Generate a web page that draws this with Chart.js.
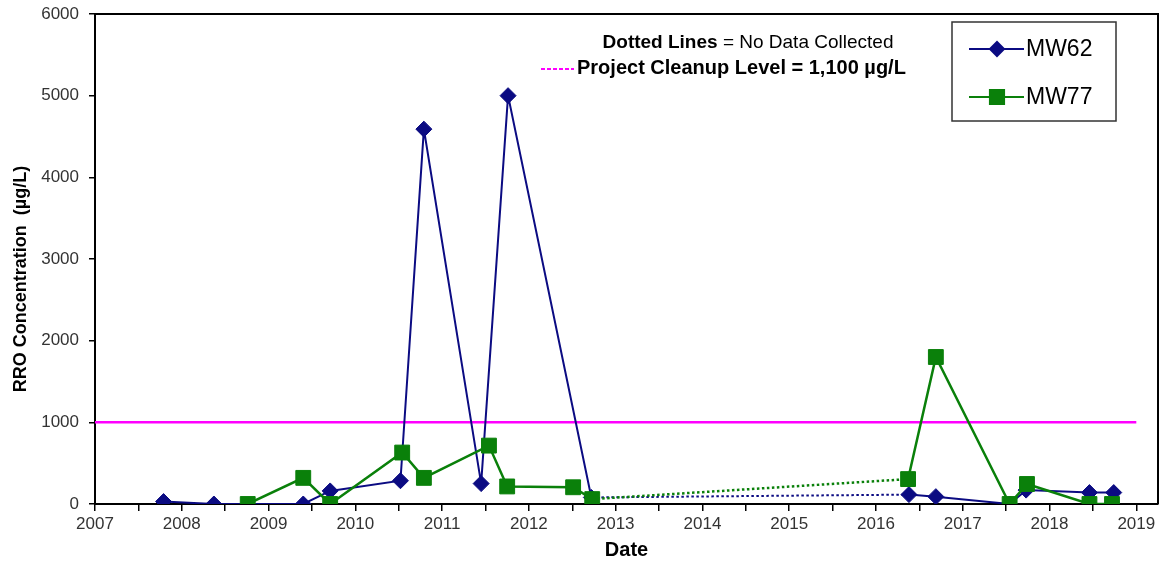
<!DOCTYPE html>
<html>
<head>
<meta charset="utf-8">
<script src="https://cdn.jsdelivr.net/npm/chart.js@4.4.1/dist/chart.umd.min.js"></script>
<style>
  html, body { margin: 0; padding: 0; background: #fff; }
</style>
</head>
<body>
<canvas id="chart" width="1161" height="562"></canvas>
<script>
// ---------------- DONNEES ----------------
const mw62Dates  = [2007.79, 2008.37, 2009.40, 2009.71, 2010.52, 2010.79, 2011.45, 2011.76, 2012.72, 2016.38, 2016.69, 2017.54, 2017.73, 2018.46, 2018.74];
const mw62Values = [30, 0, 0, 160, 285, 4590, 250, 5000, 80, 115, 90, 0, 170, 140, 140];

const mw77Dates  = [2008.76, 2009.40, 2009.71, 2010.54, 2010.79, 2011.54, 2011.75, 2012.51, 2012.73, 2016.37, 2016.69, 2017.54, 2017.74, 2018.46, 2018.72];
const mw77Values = [0, 320, 0, 630, 320, 715, 215, 205, 60, 305, 1800, 0, 245, 0, 0];

const cleanupDates  = [2007, 2019];
const cleanupValues = [1000, 1000];

const xTicks = [2007, 2007.5, 2008, 2008.5, 2009, 2009.5, 2010, 2010.5, 2011, 2011.5, 2012, 2012.5,
                2013, 2013.5, 2014, 2014.5, 2015, 2015.5, 2016, 2016.5, 2017, 2017.5, 2018, 2018.5, 2019];
const yTicks = [0, 1000, 2000, 3000, 4000, 5000, 6000];

const toPoints = (xs, ys) => xs.map((x, i) => ({ x: x, y: ys[i] }));

const FONT = "'Liberation Sans', Arial, sans-serif";
const BLUE = '#0b0b82';
const GREEN = '#0a800a';

// pointillés là où aucune donnée n'a été collectée (grand écart entre deux dates)
const gapDash = ctx => (ctx.p1.parsed.x - ctx.p0.parsed.x > 2 ? [2.5, 2.5] : undefined);

// ---------------- PLUGINS ----------------
const framePlugin = {
    id: 'frame',
    beforeDatasetsDraw(chart) {
        const { ctx, chartArea: a } = chart;
        ctx.save();
        ctx.strokeStyle = '#000';
        ctx.lineWidth = 2;
        ctx.beginPath();
        ctx.moveTo(a.left, a.top);
        ctx.lineTo(a.right, a.top);
        ctx.lineTo(a.right, a.bottom);
        ctx.stroke();
        ctx.restore();
    }
};

const notesPlugin = {
    id: 'notes',
    afterDraw(chart) {
        const ctx = chart.ctx;
        ctx.save();
        ctx.textBaseline = 'middle';
        ctx.fillStyle = '#000';

        // Dotted Lines = No Data Collected
        const boldTxt = 'Dotted Lines';
        const normTxt = ' = No Data Collected';
        ctx.font = 'bold 19px ' + FONT;
        const w1 = ctx.measureText(boldTxt).width;
        ctx.font = '19px ' + FONT;
        const w2 = ctx.measureText(normTxt).width;
        let x0 = 748 - (w1 + w2) / 2;
        ctx.font = 'bold 19px ' + FONT;
        ctx.textAlign = 'left';
        ctx.fillText(boldTxt, x0, 43);
        ctx.font = '19px ' + FONT;
        ctx.fillText(normTxt, x0 + w1, 43);

        // Project Cleanup Level
        ctx.strokeStyle = '#ff00ff';
        ctx.lineWidth = 2;
        ctx.setLineDash([4, 2]);
        ctx.beginPath();
        ctx.moveTo(541, 69);
        ctx.lineTo(574, 69);
        ctx.stroke();
        ctx.setLineDash([]);
        ctx.font = 'bold 20px ' + FONT;
        ctx.fillText('Project Cleanup Level = 1,100 µg/L', 577, 68);

        // Légende
        ctx.fillStyle = '#fff';
        ctx.fillRect(952, 22, 164, 99);
        ctx.strokeStyle = '#333';
        ctx.lineWidth = 1.5;
        ctx.strokeRect(952, 22, 164, 99);

        const items = [
            { label: 'MW62', color: BLUE, style: 'rectRot', r: 7, y: 49 },
            { label: 'MW77', color: GREEN, style: 'rect', r: 10, y: 97 }
        ];
        items.forEach(it => {
            ctx.strokeStyle = it.color;
            ctx.lineWidth = 2;
            ctx.beginPath();
            ctx.moveTo(969, it.y);
            ctx.lineTo(1024, it.y);
            ctx.stroke();
            ctx.fillStyle = it.color;
            Chart.helpers.drawPoint(ctx, { pointStyle: it.style, radius: it.r, borderWidth: 1, rotation: 0 }, 997, it.y);
            ctx.fill();
            ctx.fillStyle = '#000';
            ctx.font = '23px ' + FONT;
            ctx.fillText(it.label, 1026, it.y + 1);
        });

        // Titre axe Y
        ctx.translate(21, 279);
        ctx.rotate(-Math.PI / 2);
        ctx.textAlign = 'center';
        ctx.font = 'bold 18px ' + FONT;
        ctx.fillText('RRO Concentration  (µg/L)', 0, 0);
        ctx.restore();
    }
};

// ---------------- GRAPH CHART ----------------
new Chart(document.getElementById('chart'), {
    type: 'line',
    data: {
        datasets: [
            {
                label: 'MW77',
                data: toPoints(mw77Dates, mw77Values),
                borderColor: GREEN,
                backgroundColor: GREEN,
                borderWidth: 2.5,
                pointStyle: 'rect',
                pointRadius: 10.5,
                pointBorderWidth: 1,
                segment: { borderDash: gapDash },
                order: 0
            },
            {
                label: 'MW62',
                data: toPoints(mw62Dates, mw62Values),
                borderColor: BLUE,
                backgroundColor: BLUE,
                borderWidth: 2,
                pointStyle: 'rectRot',
                pointRadius: 8,
                pointBorderWidth: 1,
                segment: { borderDash: gapDash },
                order: 1
            },
            {
                label: 'Cleanup',
                data: toPoints(cleanupDates, cleanupValues),
                borderColor: '#ff00ff',
                borderWidth: 2.5,
                pointRadius: 0,
                order: 2
            }
        ]
    },
    options: {
        responsive: false,
        animation: false,
        layout: { autoPadding: false, padding: { top: 14, right: 3, left: 0, bottom: 0 } },
        plugins: { legend: { display: false }, tooltip: { enabled: false } },
        scales: {
            x: {
                type: 'linear',
                min: 2007,
                max: 2019.25,
                afterBuildTicks: s => { s.ticks = xTicks.map(v => ({ value: v })); },
                afterFit: s => { s.height = 58; s.paddingLeft = 0; s.paddingRight = 0; },
                ticks: {
                    callback: v => (Number.isInteger(v) ? String(v) : ''),
                    font: { size: 17, family: FONT },
                    color: '#333',
                    padding: 3,
                    maxRotation: 0,
                    autoSkip: false
                },
                grid: { drawOnChartArea: false, tickLength: 7, color: '#000', lineWidth: 1.5 },
                border: { color: '#000', width: 2 },
                title: {
                    display: true,
                    text: 'Date',
                    font: { size: 20, weight: 'bold', family: FONT },
                    color: '#000',
                    padding: 0
                }
            },
            y: {
                min: 0,
                max: 6000,
                afterBuildTicks: s => { s.ticks = yTicks.map(v => ({ value: v })); },
                afterFit: s => { s.width = 95; s.paddingTop = 0; s.paddingBottom = 0; },
                ticks: {
                    callback: v => String(v),
                    font: { size: 17, family: FONT },
                    color: '#333',
                    padding: 10
                },
                grid: { drawOnChartArea: false, tickLength: 6, color: '#000', lineWidth: 1.5 },
                border: { color: '#000', width: 2 }
            }
        }
    },
    plugins: [framePlugin, notesPlugin]
});
</script>
</body>
</html>
